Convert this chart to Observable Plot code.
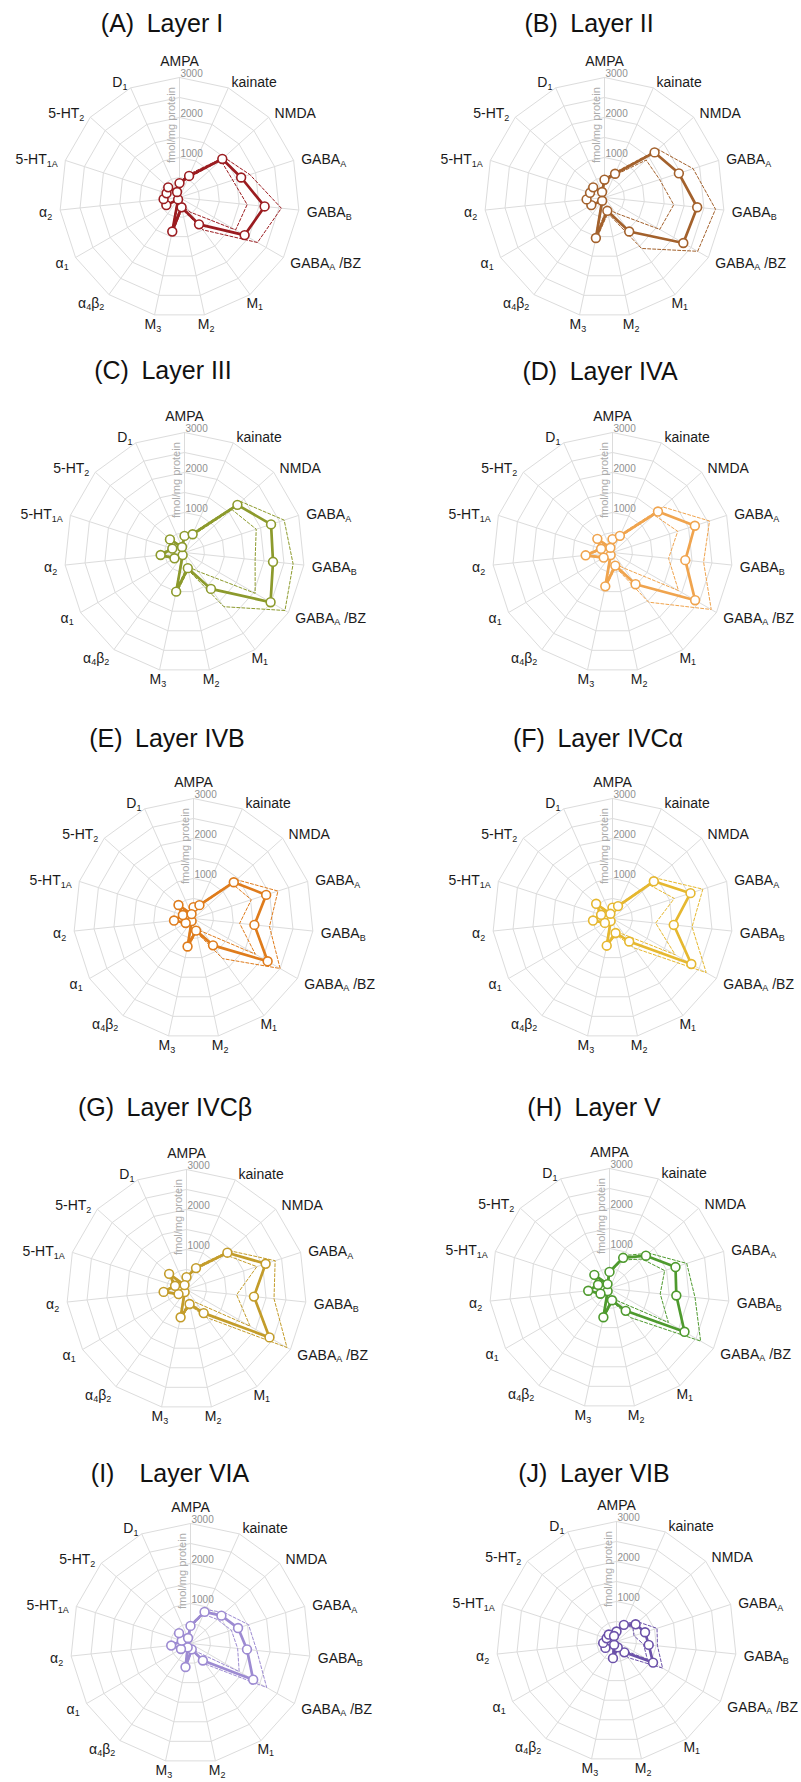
<!DOCTYPE html>
<html><head><meta charset="utf-8">
<script src="https://cdn.jsdelivr.net/npm/d3@7"></script>
<script src="https://cdn.jsdelivr.net/npm/@observablehq/plot@0.6"></script>
<style>
body{margin:0;background:#fff;width:801px;height:1782px;position:relative;overflow:hidden;font-family:"Liberation Sans",Arial,sans-serif;}
.panel{position:absolute;}
.panel svg{overflow:visible;}
.title{position:absolute;font-family:"Liberation Sans",Arial,sans-serif;font-size:25px;color:#111;white-space:pre;transform:translate(-50%,-50%);line-height:1;}
</style></head><body>
<script>
// ---- data ----
const receptors = ["AMPA","kainate","NMDA","GABA_A","GABA_B","GABA_A /BZ","M_1","M_2","M_3","α_4β_2","α_1","α_2","5-HT_1A","5-HT_2","D_1"];
const ringValues = [500,1000,1500,2000,2500,3000];
const tickValues = [1000,2000,3000];
const unitLabel = "fmol/mg protein";

const panelTitles = ["(A)\u2002Layer I","(B)\u2002Layer II","(C)\u2002Layer III","(D)\u2002Layer IVA","(E)\u2002Layer IVB","(F)\u2002Layer IVCα","(G)\u2002Layer IVCβ","(H)\u2002Layer V","(I)\u2003Layer VIA","(J)\u2002Layer VIB"];
const panelColors = ["#9b1c20","#a3612c","#8c9a2c","#f0a44e","#df7c1c","#e6b830","#c39c2a","#4e9a2e","#9d8bd2","#6b51a9"];

const meanA  = [360, 590, 1440, 1620, 2140, 1880, 830, 250, 870, 60, 380, 400, 340, 380, 150];
const upperA = [400, 650, 1500, 1850, 2560, 2250, 1000, 300, 980, 90, 420, 440, 380, 420, 190];
const lowerA = [320, 530, 1390, 1400, 1700, 1620, 450, 200, 760, 40, 340, 360, 300, 340, 110];

const meanB  = [445, 650, 1685, 1955, 2330, 2275, 1050, 340, 1035, 100, 380, 450, 380, 380, 150];
const upperB = [480, 700, 1800, 2330, 2790, 2690, 1575, 400, 1150, 130, 420, 490, 420, 420, 190];
const lowerB = [400, 600, 1400, 1450, 1740, 1595, 480, 280, 900, 70, 340, 410, 340, 340, 110];

const meanC  = [415, 500, 1780, 2275, 2225, 2485, 1125, 400, 1000, 80, 290, 600, 320, 490, 150];
const upperC = [450, 550, 1900, 2620, 2730, 2900, 1675, 450, 1100, 110, 330, 650, 360, 530, 190];
const lowerC = [380, 450, 1600, 1885, 1775, 2040, 585, 350, 900, 50, 250, 550, 280, 450, 110];

const meanD  = [335, 455, 1530, 2165, 1830, 2385, 980, 335, 865, 80, 255, 675, 300, 510, 130];
const upperD = [370, 500, 1700, 2550, 2290, 2850, 1535, 380, 950, 110, 290, 720, 340, 550, 170];
const lowerD = [300, 410, 1400, 1715, 1410, 1905, 480, 290, 780, 50, 220, 630, 260, 470, 90];

const meanE  = [285, 365, 1355, 1910, 1530, 2140, 830, 310, 715, 80, 225, 490, 280, 505, 120];
const upperE = [320, 400, 1450, 2220, 1910, 2500, 1240, 350, 800, 110, 260, 530, 320, 545, 160];
const lowerE = [250, 330, 1300, 1520, 1160, 1785, 420, 270, 630, 50, 190, 450, 240, 465, 80];

const meanF  = [270, 340, 1390, 2050, 1540, 2275, 710, 370, 695, 80, 220, 490, 300, 550, 130];
const upperF = [300, 380, 1500, 2375, 2000, 2705, 905, 410, 760, 110, 250, 530, 340, 590, 170];
const lowerF = [240, 300, 1250, 1625, 1085, 1810, 500, 330, 630, 50, 190, 450, 260, 510, 90];

const meanG  = [310, 585, 1375, 2080, 1695, 2395, 730, 370, 710, 80, 230, 575, 300, 585, 120];
const upperG = [340, 630, 1450, 2330, 2200, 2900, 870, 410, 780, 110, 260, 620, 340, 625, 160];
const lowerG = [280, 540, 1300, 1850, 1260, 1835, 400, 330, 640, 50, 200, 530, 260, 545, 80];

const meanH  = [415, 840, 1225, 1735, 1680, 2165, 690, 300, 735, 80, 260, 535, 300, 510, 120];
const upperH = [450, 900, 1320, 2030, 2150, 2630, 900, 340, 800, 110, 290, 575, 340, 550, 160];
const lowerH = [380, 780, 1100, 1450, 1275, 1700, 400, 260, 670, 50, 230, 495, 260, 470, 80];

const meanI  = [440, 865, 1040, 1250, 1420, 1810, 525, 150, 600, 120, 275, 485, 230, 385, 150];
const upperI = [480, 930, 1150, 1525, 1665, 2200, 640, 190, 660, 150, 310, 525, 270, 425, 190];
const lowerI = [400, 800, 900, 1075, 1185, 1405, 250, 110, 540, 90, 240, 445, 190, 345, 110];

const meanJ  = [250, 455, 643, 750, 810, 1055, 335, 150, 425, 100, 320, 335, 260, 260, 150];
const upperJ = [280, 500, 730, 1065, 1030, 1330, 500, 180, 470, 130, 350, 370, 300, 300, 180];
const lowerJ = [220, 410, 550, 460, 680, 890, 250, 120, 380, 70, 290, 300, 220, 220, 120];

// ---- layout (page pixels) ----
const panelCenters = [[179,196.5],[604,196.7],[184,552],[612,552],[193,918],[612,918],[186,1289],[609,1288],[190,1643],[616,1641]];
const titleCenters = [[162,23],[589,23],[163,370],[600,371],[167,738],[598,738],[165,1107],[594,1107],[170,1473],[594,1473]];

const panels = [
  [meanA, upperA, lowerA], [meanB, upperB, lowerB], [meanC, upperC, lowerC], [meanD, upperD, lowerD],
  [meanE, upperE, lowerE], [meanF, upperF, lowerF], [meanG, upperG, lowerG], [meanH, upperH, lowerH],
  [meanI, upperI, lowerI], [meanJ, upperJ, lowerJ]
];

const W = 370, H = 310, K = 0.04; // px per fmol/mg unit
const n = receptors.length;
const ang = i => i * 2 * Math.PI / n;
const px = (v, i) => v * Math.sin(ang(i));
const py = (v, i) => v * Math.cos(ang(i));
const LABEL_R = 3200;
const gridColor = "#dcdcdc";

function closed(vals) { return d3.range(n + 1).map(k => ({v: vals[k % n], i: k % n})); }

function subscriptify(svg) {
  svg.querySelectorAll("text").forEach(t => {
    const s = t.textContent;
    if (!s.includes("_")) return;
    t.textContent = "";
    const re = /_([0-9A-Z]+)/g;
    let last = 0, m, shifted = false;
    const add = (str, sub) => {
      if (!str) return;
      const ts = document.createElementNS("http://www.w3.org/2000/svg", "tspan");
      ts.textContent = str;
      if (sub) { ts.setAttribute("font-size", "9"); ts.setAttribute("dy", "2.5"); shifted = true; }
      else if (shifted) { ts.setAttribute("dy", "-2.5"); shifted = false; }
      t.appendChild(ts);
    };
    while ((m = re.exec(s))) {
      add(s.slice(last, m.index), false);
      add(m[1], true);
      last = re.lastIndex;
    }
    add(s.slice(last), false);
  });
}

function radar([mean, upper, lower], color) {
  const ringPts = ringValues.flatMap(r => d3.range(n + 1).map(k => ({r, i: k % n})));
  const idx = d3.range(n);
  const deg = i => i * 360 / n;
  const top = idx.filter(i => deg(i) === 0);
  const right = idx.filter(i => deg(i) > 0 && deg(i) < 130);
  const bottom = idx.filter(i => deg(i) >= 130 && deg(i) < 200);
  const left = idx.filter(i => deg(i) >= 200);
  const labelMark = (sel, opts) => Plot.text(sel, {
    x: i => px(LABEL_R, i), y: i => py(LABEL_R, i), text: i => receptors[i],
    fontSize: 14, fill: "#1a1a1a", ...opts
  });
  const svg = Plot.plot({
    width: W, height: H, margin: 0,
    style: {fontFamily: "'Liberation Sans', Arial, sans-serif", background: "transparent"},
    x: {domain: [-W / 2 / K, W / 2 / K], axis: null},
    y: {domain: [-H / 2 / K, H / 2 / K], axis: null},
    marks: [
      Plot.line(ringPts, {x: d => px(d.r, d.i), y: d => py(d.r, d.i), z: "r", stroke: gridColor, strokeWidth: 1}),
      Plot.link(idx, {x1: () => 0, y1: () => 0, x2: i => px(3000, i), y2: i => py(3000, i), stroke: gridColor, strokeWidth: 1}),
      Plot.text(tickValues, {x: () => 0, y: d => d, text: d => String(d), textAnchor: "start", lineAnchor: "bottom", dx: 1, dy: -1, fill: "#8f8f8f", fontSize: 10}),
      Plot.text([unitLabel], {x: () => 0, y: () => 1810, text: d => d, rotate: -90, dx: -8, fill: "#ababab", fontSize: 11}),
      Plot.line(closed(upper), {x: d => px(d.v, d.i), y: d => py(d.v, d.i), stroke: color, strokeWidth: 1, strokeDasharray: "3,2"}),
      Plot.line(closed(lower), {x: d => px(d.v, d.i), y: d => py(d.v, d.i), stroke: color, strokeWidth: 1, strokeDasharray: "3,2"}),
      Plot.line(closed(mean), {x: d => px(d.v, d.i), y: d => py(d.v, d.i), stroke: color, strokeWidth: 2.7}),
      Plot.dot(mean.map((v, i) => ({v, i})), {x: d => px(d.v, d.i), y: d => py(d.v, d.i), r: 4.4, fill: "white", stroke: color, strokeWidth: 1.6}),
      labelMark(top, {textAnchor: "middle", lineAnchor: "bottom", dy: -4}),
      labelMark(right, {textAnchor: "start", dy: 2}),
      labelMark(bottom, {textAnchor: "middle", dy: 2}),
      labelMark(left, {textAnchor: "end", dy: 2})
    ]
  });
  subscriptify(svg);
  return svg;
}

panels.forEach((p, k) => {
  const div = document.createElement("div");
  div.className = "panel";
  div.style.left = (panelCenters[k][0] - W / 2) + "px";
  div.style.top = (panelCenters[k][1] - H / 2) + "px";
  div.appendChild(radar(p, panelColors[k]));
  document.body.appendChild(div);
  const t = document.createElement("div");
  t.className = "title";
  t.textContent = panelTitles[k];
  t.style.left = titleCenters[k][0] + "px";
  t.style.top = titleCenters[k][1] + "px";
  document.body.appendChild(t);
});
</script>
</body></html>
